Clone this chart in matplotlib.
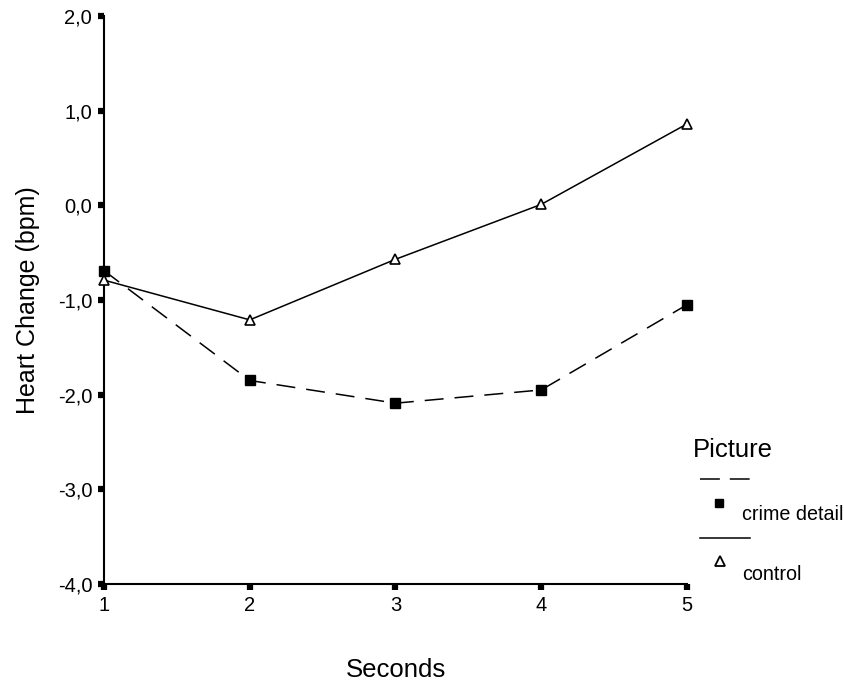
import matplotlib
matplotlib.use("Agg")
import matplotlib.pyplot as plt
from matplotlib.lines import Line2D
from matplotlib.ticker import FuncFormatter

seconds = [1, 2, 3, 4, 5]
crime_detail = [-0.69, -1.85, -2.09, -1.95, -1.05]
control = [-0.79, -1.21, -0.57, 0.01, 0.86]
y_ticks = [-4, -3, -2, -1, 0, 1, 2]

plt.rcParams['font.family'] = ['Liberation Sans', 'DejaVu Sans']

fig = plt.figure(figsize=(8.45, 6.82), dpi=100)
W, H = 845, 682
ax = fig.add_axes([104 / W, 1 - 584 / H, (687 - 104) / W, (584 - 16) / H])

lw = 1.1
dash = (0, (12.4, 7.2))
ax.plot(seconds, crime_detail, color='black', lw=lw, ls=dash,
        marker='s', ms=6.5, mfc='black', mec='black', clip_on=False, zorder=3)
ax.plot(seconds, control, color='black', lw=lw, ls='-',
        marker='^', ms=7.5, mfc='white', mec='black', mew=1.2, clip_on=False, zorder=3)

ax.set_xlim(1, 5)
ax.set_ylim(-4, 2)
ax.set_xticks(seconds)
ax.set_yticks(y_ticks)
ax.yaxis.set_major_formatter(FuncFormatter(lambda v, p: f"{v:.1f}".replace('.', ',')))
for s in ['top', 'right']:
    ax.spines[s].set_visible(False)
for s in ['left', 'bottom']:
    ax.spines[s].set_linewidth(1.5)
ax.tick_params(axis='both', direction='out', length=4, width=4.5, labelsize=14.5, color='black')
ax.tick_params(axis='x', pad=4.5)
ax.tick_params(axis='y', pad=4.5)

ax.set_xlabel('Seconds', fontsize=18.5)
ax.xaxis.set_label_coords(0.5, (584 - 677) / 568, transform=ax.transAxes)
ax.xaxis.label.set_va('baseline')
ax.set_ylabel('Heart Change (bpm)', fontsize=18)
ax.yaxis.set_label_coords((28 - 104) / 583, 0.5, transform=ax.transAxes)
ax.yaxis.label.set_va('center')

# legend
fig.text(693 / W, 1 - 457 / H, 'Picture', fontsize=18.5, va='baseline', ha='left')
fig.add_artist(Line2D([700 / W, 750 / W], [1 - 479 / H, 1 - 479 / H], color='black', lw=lw,
                      ls=(0, (13, 6.5)), transform=fig.transFigure))
fig.add_artist(Line2D([719 / W], [1 - 503 / H], marker='s', ms=5.8, color='black', ls='none',
                      transform=fig.transFigure))
fig.text(742 / W, 1 - 520 / H, 'crime detail', fontsize=14.2, va='baseline', ha='left')
fig.add_artist(Line2D([700 / W, 750 / W], [1 - 538 / H, 1 - 538 / H], color='black', lw=lw,
                      transform=fig.transFigure))
fig.add_artist(Line2D([720 / W], [1 - 561 / H], marker='^', ms=7, mfc='white', mec='black', mew=1.3,
                      ls='none', transform=fig.transFigure))
fig.text(742 / W, 1 - 580 / H, 'control', fontsize=14.2, va='baseline', ha='left')

fig.savefig('out.png', dpi=100)
